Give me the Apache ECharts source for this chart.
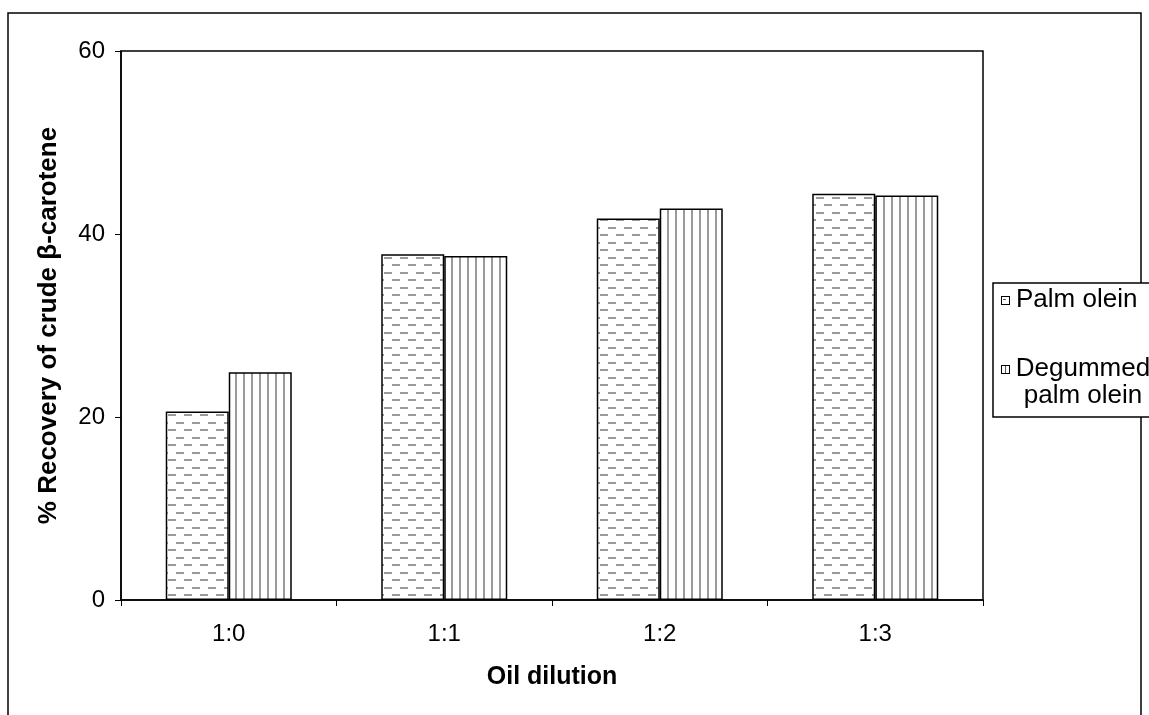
<!DOCTYPE html>
<html>
<head>
<meta charset="utf-8">
<script src="https://cdn.jsdelivr.net/npm/echarts@6/dist/echarts.min.js"></script>
<style>
html,body{margin:0;padding:0;background:#fff;}
#chart{width:1149px;height:715px;}
</style>
</head>
<body>
<div id="chart"></div>
<script>
const categories = ['1:0', '1:1', '1:2', '1:3'];
const palmOlein = [20.6, 37.8, 41.7, 44.4];
const degummedPalmOlein = [24.9, 37.6, 42.8, 44.2];
const seriesNames = ['Palm olein', 'Degummed palm olein'];
const legendLabels = ['Palm olein', 'Degummed\npalm olein'];
const yMin = 0, yMax = 60, yInterval = 20;
const xAxisTitle = 'Oil dilution';
const yAxisTitle = '% Recovery of crude β-carotene';

function makeCanvas(w, h, draw) {
  const c = document.createElement('canvas');
  c.width = w; c.height = h;
  const ctx = c.getContext('2d');
  ctx.fillStyle = '#fff';
  ctx.fillRect(0, 0, w, h);
  draw(ctx);
  return c;
}
const GRAY = '#9a9a9a';
const dashTile = makeCanvas(16, 15, ctx => {
  ctx.fillStyle = GRAY;
  ctx.fillRect(0, 2, 8, 2);
  ctx.fillRect(8, 9, 8, 2);
});
const lineTile = makeCanvas(8, 8, ctx => {
  ctx.fillStyle = GRAY;
  ctx.fillRect(3, 0, 2, 8);
});
const iconPalm = makeCanvas(9, 9, ctx => {
  ctx.strokeStyle = '#000'; ctx.lineWidth = 1;
  ctx.strokeRect(0.5, 0.5, 8, 8);
  ctx.fillStyle = '#555';
  ctx.fillRect(2, 3, 3, 1);
});
const iconDeg = makeCanvas(9, 9, ctx => {
  ctx.strokeStyle = '#000'; ctx.lineWidth = 1;
  ctx.strokeRect(0.5, 0.5, 8, 8);
  ctx.fillStyle = '#555';
  ctx.fillRect(4, 1, 1, 7);
});

const FONT = '"Liberation Sans", Arial, sans-serif';
const chart = echarts.init(document.getElementById('chart'), null, {renderer: 'canvas'});

const option = {
  backgroundColor: '#fff',
  animation: false,
  grid: {
    left: 121, right: 166, top: 51, bottom: 115,
    show: true, borderColor: '#000', borderWidth: 1.5, backgroundColor: 'transparent'
  },
  xAxis: {
    type: 'category',
    data: categories,
    boundaryGap: true,
    axisLine: {show: true, lineStyle: {color: '#000', width: 1.5}},
    axisTick: {show: true, length: 6, lineStyle: {color: '#000', width: 1}},
    axisLabel: {color: '#000', fontFamily: FONT, fontSize: 24, margin: 22},
    name: xAxisTitle,
    nameLocation: 'middle',
    nameGap: 65,
    nameTextStyle: {color: '#000', fontFamily: FONT, fontSize: 25, fontWeight: 'bold'}
  },
  yAxis: {
    type: 'value',
    min: yMin, max: yMax, interval: yInterval,
    splitLine: {show: false},
    axisLine: {show: true, lineStyle: {color: '#000', width: 1.5}},
    axisTick: {show: true, length: 6, lineStyle: {color: '#000', width: 1}},
    axisLabel: {color: '#000', fontFamily: FONT, fontSize: 24, margin: 16},
    name: yAxisTitle,
    nameLocation: 'middle',
    nameGap: 59,
    nameTextStyle: {color: '#000', fontFamily: FONT, fontSize: 26, fontWeight: 'bold'}
  },
  series: [
    {
      name: seriesNames[0],
      type: 'bar',
      data: palmOlein,
      barWidth: 63,
      barGap: '0%',
      itemStyle: {color: {image: dashTile, repeat: 'repeat'}, borderColor: '#000', borderWidth: 1.5}
    },
    {
      name: seriesNames[1],
      type: 'bar',
      data: degummedPalmOlein,
      barWidth: 63,
      barGap: '0%',
      itemStyle: {color: {image: lineTile, repeat: 'repeat'}, borderColor: '#000', borderWidth: 1.5}
    }
  ],
  graphic: [
    {
      type: 'rect', silent: true, z: -10,
      shape: {x: 8, y: 13, width: 1133, height: 720},
      style: {fill: 'transparent', stroke: '#000', lineWidth: 1.5}
    },
    {
      type: 'group', z: 100,
      children: [
        {type: 'rect', shape: {x: 993, y: 283, width: 158, height: 134},
         style: {fill: '#fff', stroke: '#000', lineWidth: 1.5}},
        {type: 'image', style: {image: iconPalm, x: 1001, y: 296, width: 9, height: 9}},
        {type: 'text', style: {text: legendLabels[0], x: 1016, y: 300, verticalAlign: 'middle',
          fill: '#000', font: '26px ' + FONT}},
        {type: 'image', style: {image: iconDeg, x: 1001, y: 365, width: 9, height: 9}},
        {type: 'text', style: {text: legendLabels[1], x: 1083, y: 355, align: 'center', verticalAlign: 'top',
          fill: '#000', font: '26px ' + FONT, lineHeight: 27}}
      ]
    }
  ]
};
chart.setOption(option);
</script>
</body>
</html>
